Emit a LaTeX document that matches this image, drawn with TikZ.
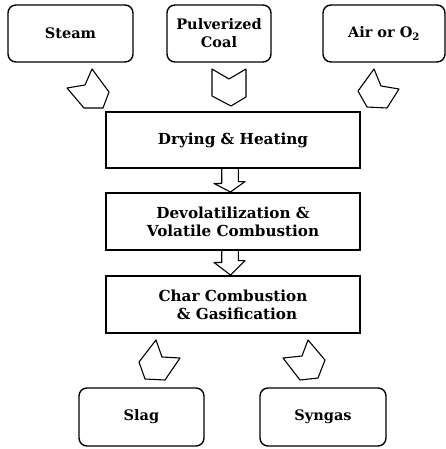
\documentclass[tikz,border=0pt]{standalone}
\usepackage{fontspec}
\setmainfont{DejaVu Serif}
\usetikzlibrary{positioning}
\tikzset{
  inbox/.style={draw,rounded corners=8pt,line width=1.4pt,align=center,inner sep=0pt,
    minimum height=57pt,font=\bfseries\fontsize{14.5}{18}\selectfont},
  stagebox/.style={draw,line width=1.9pt,align=center,inner sep=0pt,
    minimum width=254pt,minimum height=57pt,font=\bfseries\fontsize{15.2}{18}\selectfont},
  blockarrow/.style={draw,line width=1.1pt,line join=round},
}
\begin{document}
\begin{tikzpicture}[x=1pt,y=-1pt]
\useasboundingbox (0,0) rectangle (446,449);
% feeds
\node[inbox,minimum width=125pt] (steam) at (70.5,33.5) {Steam};
\node[inbox,minimum width=104pt] (coal) at (219,33.5) {Pulverized\\Coal};
\node[inbox,minimum width=122pt] (air) at (384,33.5) {Air or O\textsubscript{2}};
% stages
\node[stagebox,minimum height=56pt] (dry) at (233,140) {Drying \& Heating};
\node[stagebox] (devol) at (233,221.5) {Devolatilization \&\\Volatile Combustion};
\node[stagebox] (char) at (233,304.5) {Char Combustion\\\hspace{8pt}\& Gasification};
% products
\node[inbox,minimum width=125pt,minimum height=58pt] (slag) at (141.5,417) {Slag};
\node[inbox,minimum width=126pt,minimum height=58pt] (syngas) at (323,417) {Syngas};
% block arrows in
\draw[blockarrow] (67,88) -- (85,85) -- (92,69) -- (109,92) -- (103,108) -- (84,108) -- cycle;
\draw[blockarrow] (212,69) -- (229,79) -- (246,69) -- (246,97) -- (231,106) -- (212,96) -- cycle;
\draw[blockarrow] (374,69) -- (381,86) -- (399,89) -- (387,108) -- (367,107) -- (358,91) -- cycle;
% between stages
\draw[blockarrow] ([xshift=-11.3pt]dry.south) -- ++(0,14.5) -- ++(-7.7,0)
  -- ([xshift=-2.5pt]devol.north) -- ([xshift=12pt,yshift=10.5pt]devol.north)
  -- ++(-6.7,0) -- ([xshift=5.3pt]dry.south);
\draw[blockarrow] ([xshift=-11.3pt]devol.south) -- ++(0,11.5) -- ++(-7.7,0)
  -- ([xshift=-2.5pt]char.north) -- ([xshift=12pt,yshift=14.5pt]char.north)
  -- ++(-6.7,0) -- ([xshift=5.3pt]devol.south);
% block arrows out
\draw[blockarrow] (156,340) -- (162,357) -- (180,358) -- (165,380) -- (145,379) -- (139,362) -- cycle;
\draw[blockarrow] (308,340) -- (325,360) -- (318,378) -- (300,380) -- (283,358) -- (302,356) -- cycle;
\end{tikzpicture}
\end{document}
